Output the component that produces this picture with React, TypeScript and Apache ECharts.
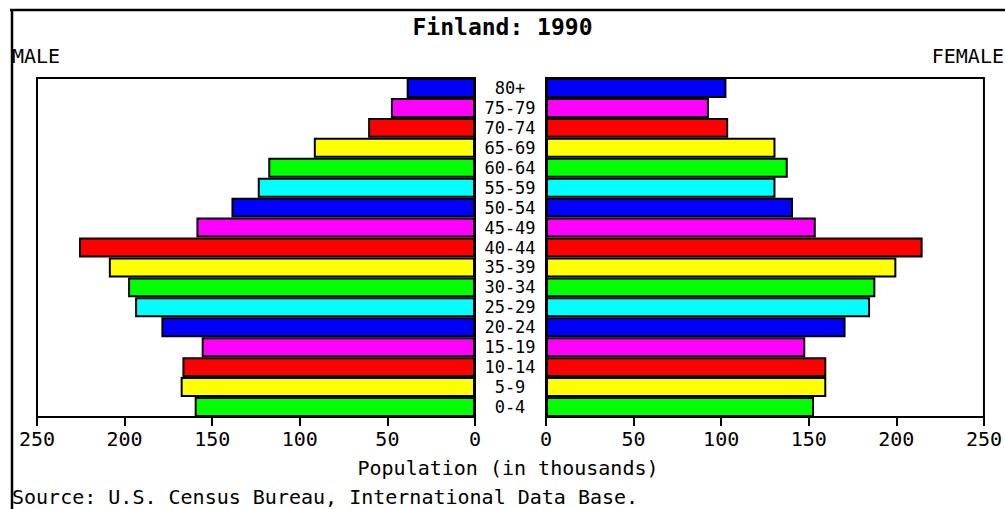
import React, { useEffect, useRef } from "react";
import * as echarts from "echarts";

const ageGroups = ["0-4", "5-9", "10-14", "15-19", "20-24", "25-29", "30-34", "35-39", "40-44", "45-49", "50-54", "55-59", "60-64", "65-69", "70-74", "75-79", "80+"];
const maleValues = [160, 168, 167, 156, 179, 194, 198, 209, 226, 159, 139, 124, 118, 92, 61, 48, 39];
const femaleValues = [153, 160, 160, 148, 171, 185, 188, 200, 215, 154, 141, 131, 138, 131, 104, 93, 103];
const palette = ["#00ff00", "#ffff00", "#ff0000", "#ff00ff", "#0000ff", "#00ffff"];
const axisMax = 250;
const axisStep = 50;

const FONT = "'DejaVu Sans Mono', 'Liberation Mono', monospace";

export default function App() {
  const ref = useRef<HTMLDivElement>(null);

  useEffect(() => {
    if (!ref.current) return;
    const chart = echarts.init(ref.current, null, { renderer: "svg" });

    const barData = (vals: number[]) =>
      vals.map((v, i) => ({
        value: v,
        itemStyle: { color: palette[i % palette.length] },
      }));

    const xAxisCommon = {
      type: "value" as const,
      min: 0,
      max: axisMax,
      interval: axisStep,
      splitLine: { show: false },
      axisLine: { show: false },
      axisTick: { show: true, length: 9, lineStyle: { color: "#000", width: 2 } },
      axisLabel: { color: "#000", fontFamily: FONT, fontSize: 20, margin: 12 },
    };

    chart.setOption({
      animation: false,
      backgroundColor: "#fff",
      title: {
        text: "Finland: 1990",
        left: "center",
        top: 10,
        textStyle: { fontFamily: FONT, fontSize: 23, fontWeight: "bold", color: "#000" },
      },
      grid: [
        { left: 37, width: 438, top: 78, height: 339, show: true, borderColor: "#000", borderWidth: 2, backgroundColor: "#fff" },
        { left: 546, width: 439, top: 78, height: 339, show: true, borderColor: "#000", borderWidth: 2, backgroundColor: "#fff" },
      ],
      xAxis: [
        { ...xAxisCommon, gridIndex: 0, inverse: true },
        { ...xAxisCommon, gridIndex: 1 },
      ],
      yAxis: [
        {
          type: "category",
          gridIndex: 0,
          data: ageGroups,
          axisLine: { show: false },
          axisTick: { show: false },
          axisLabel: { show: false },
        },
        {
          type: "category",
          gridIndex: 1,
          data: ageGroups,
          axisLine: { show: false },
          axisTick: { show: false },
          axisLabel: {
            show: true,
            interval: 0,
            align: "center",
            margin: 36,
            color: "#000",
            fontFamily: FONT,
            fontSize: 17,
            lineHeight: 17,
          },
        },
      ],
      series: [
        {
          type: "bar",
          xAxisIndex: 0,
          yAxisIndex: 0,
          data: barData(maleValues),
          barWidth: "100%",
          barCategoryGap: 0,
          itemStyle: { borderColor: "#000", borderWidth: 2 },
        },
        {
          type: "bar",
          xAxisIndex: 1,
          yAxisIndex: 1,
          data: barData(femaleValues),
          barWidth: "100%",
          barCategoryGap: 0,
          itemStyle: { borderColor: "#000", borderWidth: 2 },
        },
      ],
      graphic: [
        { type: "line", shape: { x1: 10, y1: 10, x2: 1005, y2: 10 }, style: { stroke: "#000", lineWidth: 2.5 } },
        { type: "line", shape: { x1: 12, y1: 10, x2: 12, y2: 509 }, style: { stroke: "#000", lineWidth: 2.5 } },
        {
          type: "text",
          x: 12,
          y: 56,
          style: { text: "MALE", fontFamily: FONT, fontSize: 20, fill: "#000", textAlign: "left", textVerticalAlign: "middle" },
        },
        {
          type: "text",
          x: 1004,
          y: 56,
          style: { text: "FEMALE", fontFamily: FONT, fontSize: 20, fill: "#000", textAlign: "right", textVerticalAlign: "middle" },
        },
        {
          type: "text",
          x: 508,
          y: 468,
          style: { text: "Population (in thousands)", fontFamily: FONT, fontSize: 20, fill: "#000", textAlign: "center", textVerticalAlign: "middle" },
        },
        {
          type: "text",
          x: 12,
          y: 497,
          style: { text: "Source: U.S. Census Bureau, International Data Base.", fontFamily: FONT, fontSize: 20, fill: "#000", textAlign: "left", textVerticalAlign: "middle" },
        },
      ],
    });

    return () => chart.dispose();
  }, []);

  return (
    <div
      ref={ref}
      style={{ position: "fixed", left: 0, top: 0, width: 1005, height: 509, background: "#fff" }}
    />
  );
}
